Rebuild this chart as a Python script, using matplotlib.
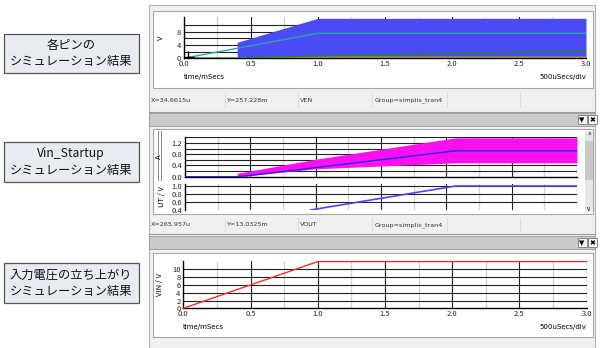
import matplotlib.pyplot as plt
from matplotlib.patches import Rectangle
import numpy as np

plt.rcParams['font.family'] = ['Noto Sans CJK JP', 'DejaVu Sans']

W, H = 600, 348

# --- data (time in ms) ---
labels = [['各ピンの', 'シミュレーション結果'],
          ['Vin_Startup', 'シミュレーション結果'],
          ['入力電圧の立ち上がり', 'シミュレーション結果']]

# panel 1: pin waveforms
sw_t = [0.4, 1.0, 3.0]
sw_top = [4.8, 12.0, 12.0]
cyan_t = [0.0, 1.0, 3.0]
cyan_v = [0.0, 7.5, 7.5]
green_t = [0.0, 0.4, 1.0, 3.0]
green_v = [0.0, 0.05, 0.7, 2.3]
olive_t = [0.0, 0.4, 1.0, 3.0]
olive_v = [0.0, 0.0, 0.35, 0.35]
cursor1 = (0.0347, 0.257)

# panel 2: inductor current band + mean, VOUT
il_t = [0.4, 1.0, 2.07, 3.0]
il_hi = [0.12, 0.62, 1.38, 1.38]
il_lo = [0.0, 0.28, 0.49, 0.49]
ilavg_t = [0.0, 0.42, 2.07, 3.0]
ilavg = [0.0, 0.0, 0.92, 0.92]
vout_t = [0.96, 2.07, 3.0]
vout = [0.4, 1.0, 1.0]

# panel 3: VIN ramp
vin_t = [0.0, 1.0, 3.0]
vin = [0.0, 12.0, 12.0]

status1 = ['X=34.6615u', 'Y=257.228m', 'VEN', 'Group=simplis_tran4']
status2 = ['X=265.957u', 'Y=13.0325m', 'VOUT', 'Group=simplis_tran4']

fig = plt.figure(figsize=(6, 3.48), dpi=100)
bg = fig.add_axes([0, 0, 1, 1])
bg.set_xlim(0, W)
bg.set_ylim(H, 0)
bg.axis('off')


def rect(x0, y0, x1, y1, fc, ec='none', lw=0.8, z=1):
    bg.add_patch(Rectangle((x0, y0), x1 - x0, y1 - y0, fc=fc, ec=ec, lw=lw, zorder=z))


def pax(x0, y0, x1, y1):
    return fig.add_axes([x0 / W, 1 - y1 / H, (x1 - x0) / W, (y1 - y0) / H])


# left label boxes
for (ya, yb), lines in zip([(34, 73), (142, 182), (263, 303)], labels):
    rect(3.5, ya, 139, yb, '#E9EBF3', '#555555', 0.9)
    yc = (ya + yb) / 2
    bg.text(71, yc - 8, lines[0], ha='center', va='center', fontsize=8.8, color='#111111')
    bg.text(71, yc + 8, lines[1], ha='center', va='center', fontsize=8.8, color='#111111')

# window chrome
rect(149, 5, 595, 348, '#F0F0F0', '#B4B4B4', 0.8)
for fy0, fy1 in [(11, 88), (129, 214), (253, 337)]:
    rect(153, fy0, 593, fy1, 'white', '#A8A8A8', 0.8, z=2)
for ty0, ty1 in [(113, 126), (236, 249)]:
    rect(149, ty0, 595, ty1, '#CACACA', '#9A9A9A', 0.6, z=2)
    for bx, ch in [(582, '▼'), (592, '✖')]:
        rect(bx - 4.5, ty0 + 2, bx + 4.5, ty1 - 2, '#F4F4F4', '#777777', 0.6, z=3)
        bg.text(bx, (ty0 + ty1) / 2 + 0.5, ch, ha='center', va='center', fontsize=5,
                family=['DejaVu Sans'], zorder=4)
for ly in [111.5, 233.5]:
    bg.plot([149, 595], [ly, ly], color='#9A9A9A', lw=0.8, zorder=2)
# scrollbar panel 2
rect(585, 131, 593, 212, '#E6E6E6', z=3)
rect(585, 141, 593, 180, '#C8C8C8', z=3)
bg.text(589, 135, '^', ha='center', va='center', fontsize=5, zorder=4)
bg.text(589, 209, 'v', ha='center', va='center', fontsize=4.5, zorder=4)
# status bars
for sy, texts in [(100, status1), (225, status2)]:
    for sx, s in zip([151, 226, 300, 375], texts):
        bg.text(sx, sy, s, ha='left', va='center', fontsize=4.6, color='#333333',
                family=['DejaVu Sans'], zorder=3)
    for dx in [225, 298, 372, 447, 520]:
        bg.plot([dx, dx], [sy - 7, sy + 7], color='#DCDCDC', lw=0.7, zorder=3)
# legend separator bars in panel 2
for lx in [158, 160.5]:
    bg.plot([lx, lx], [131, 180], color='#888888', lw=0.7, zorder=3)


def style(ax, ylim, yticks, gridy, ticklabels=True):
    ax.set_xlim(0, 3)
    ax.set_ylim(*ylim)
    ax.set_zorder(5)
    ax.patch.set_alpha(0)
    for s in ['top', 'right']:
        ax.spines[s].set_visible(False)
    ax.spines['left'].set_linewidth(1.0)
    ax.spines['bottom'].set_linewidth(1.0)
    for xv in np.arange(0.25, 3.01, 0.25):
        major = abs(xv * 2 - round(xv * 2)) < 1e-6
        ax.axvline(xv, color='#222222' if major else '#D4D4D4', lw=0.8 if major else 1.0, zorder=1)
    for yv in gridy:
        ax.axhline(yv, color='#222222', lw=0.8, zorder=1)
    ax.set_yticks(yticks)
    ax.set_yticklabels([('%g' % v) if max(yticks) > 2 else ('%.1f' % v) for v in yticks])
    ax.tick_params(axis='y', length=0, pad=2, labelsize=5.5, labelcolor='#222222')
    ax.set_xticks(np.arange(0, 3.01, 0.5))
    if ticklabels:
        ax.set_xticklabels(['%.1f' % v for v in np.arange(0, 3.01, 0.5)])
        ax.tick_params(axis='x', length=0, pad=1, labelsize=5.5, labelcolor='#222222')
    else:
        ax.tick_params(axis='x', length=0, labelbottom=False)


# panel 1
ax1 = pax(183.5, 17, 586, 58.3)
style(ax1, (0, 12.4), [0, 4, 8], [2, 4, 6, 8, 10])
ax1.fill_between(sw_t, 0, sw_top, color='#4B4BF5', lw=0, zorder=2)
ax1.plot(olive_t, olive_v, color='#9A8040', lw=1.5, zorder=3)
ax1.plot(green_t, green_v, color='#1E8A2A', lw=1.0, zorder=3)
ax1.plot(cyan_t, cyan_v, color='#2BA3AE', lw=1.0, zorder=3)
ax1.plot(*cursor1, marker='+', ms=9, mew=1.0, color='black', zorder=4)
ax1.set_ylabel('V', fontsize=5.5, labelpad=8)
bg.text(183.5, 77, 'time/mSecs', fontsize=5, va='center', family=['DejaVu Sans'], zorder=4)
bg.text(586, 77, '500uSecs/div', fontsize=5, va='center', ha='right',
        family=['DejaVu Sans'], zorder=4)

# panel 2 top
ax2 = pax(185, 136.7, 577, 176.7)
style(ax2, (0, 1.42), [0.0, 0.4, 0.8, 1.2], np.arange(0.2, 1.41, 0.2), ticklabels=False)
ax2.fill_between(il_t, il_lo, il_hi, color='#FF10F0', lw=0, zorder=2)
ax2.plot(ilavg_t, ilavg, color='#2323E6', lw=1.0, zorder=3)
ax2.set_ylabel('A', fontsize=5.5, labelpad=6)

# panel 2 bottom
ax2b = pax(185, 184, 577, 210)
style(ax2b, (0.4, 1.05), [0.4, 0.6, 0.8, 1.0], [0.6, 0.8, 1.0], ticklabels=False)
ax2b.spines['bottom'].set_visible(False)
ax2b.plot(vout_t, vout, color='#4848F0', lw=1.2, zorder=3)
ax2b.set_ylabel('UT / V', fontsize=5.5, labelpad=4)

# panel 3
ax3 = pax(183.3, 261, 586.7, 308.3)
style(ax3, (0, 12.15), [0, 2, 4, 6, 8, 10], [2, 4, 6, 8, 10])
ax3.plot(vin_t, vin, color='#F03030', lw=1.0, zorder=3, clip_on=False)
ax3.set_ylabel('VIN / V', fontsize=5.5, labelpad=6)
bg.text(183.3, 327, 'time/mSecs', fontsize=5, va='center', family=['DejaVu Sans'], zorder=4)
bg.text(586.7, 327, '500uSecs/div', fontsize=5, va='center', ha='right',
        family=['DejaVu Sans'], zorder=4)

fig.savefig('out.png', dpi=100)
